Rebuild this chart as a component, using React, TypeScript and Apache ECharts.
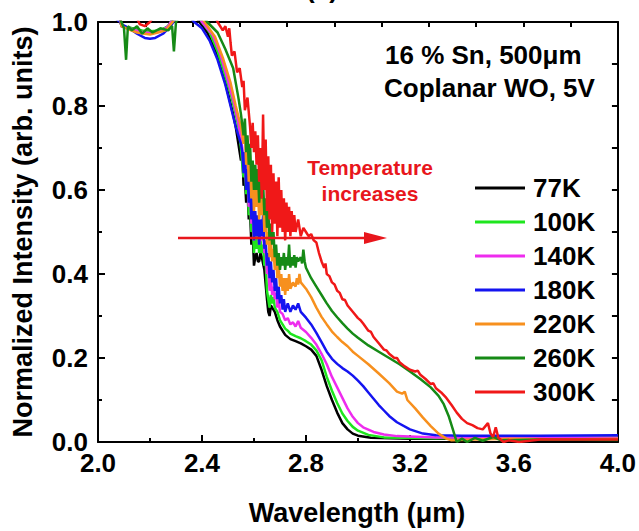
import React, { useEffect, useRef } from "react";
import * as echarts from "echarts";

const FONT = "'Liberation Sans', Arial, Helvetica, sans-serif";

const SERIES_NAMES = ["77K", "100K", "140K", "180K", "220K", "260K", "300K"];
const SERIES_COLORS = ["#000000", "#1ee61e", "#ee2cee", "#1414f0", "#f7901e", "#168a16", "#f01818"];

const X_TICKS = [2.0, 2.4, 2.8, 3.2, 3.6, 4.0];
const Y_TICKS = [0.0, 0.2, 0.4, 0.6, 0.8, 1.0];

const K77: [number, number][] = [
  [2.0, 1.04], [2.085, 1.01], [2.09, 0.99], [2.13, 0.985], [2.17, 0.978], [2.2, 0.975], [2.24, 0.978], [2.27, 0.99], [2.29, 1.01], [2.33, 1.03], [2.37, 1.02], [2.39, 1.0],
  [2.42, 0.975], [2.45, 0.935], [2.48, 0.88], [2.5, 0.83], [2.52, 0.78], [2.53, 0.75], [2.54, 0.71], [2.55, 0.67], [2.555, 0.69], [2.56, 0.61], [2.565, 0.63], [2.57, 0.57],
  [2.575, 0.6], [2.58, 0.53], [2.585, 0.55], [2.59, 0.47], [2.595, 0.5], [2.6, 0.42], [2.605, 0.44], [2.61, 0.45], [2.615, 0.43], [2.62, 0.43], [2.625, 0.45], [2.63, 0.44],
  [2.64, 0.41], [2.65, 0.34], [2.655, 0.31], [2.66, 0.3], [2.665, 0.325], [2.67, 0.32], [2.68, 0.31], [2.69, 0.29], [2.7, 0.275], [2.72, 0.255], [2.74, 0.245], [2.76, 0.24],
  [2.78, 0.235], [2.8, 0.228], [2.82, 0.22], [2.84, 0.205], [2.86, 0.172], [2.88, 0.133], [2.9, 0.1], [2.92, 0.07], [2.94, 0.045], [2.96, 0.03], [2.98, 0.02], [3.0, 0.015],
  [3.05, 0.01], [3.2, 0.008], [3.5, 0.008], [4.0, 0.01],
];

const K100: [number, number][] = [
  [2.0, 1.04], [2.085, 1.01], [2.09, 0.99], [2.13, 0.985], [2.17, 0.98], [2.2, 0.978], [2.24, 0.98], [2.27, 0.99], [2.29, 1.01], [2.34, 1.03], [2.38, 1.02], [2.4, 1.0],
  [2.43, 0.975], [2.46, 0.93], [2.49, 0.87], [2.51, 0.83], [2.53, 0.78], [2.54, 0.75], [2.55, 0.7], [2.555, 0.66], [2.56, 0.63], [2.565, 0.67], [2.57, 0.59], [2.575, 0.63],
  [2.58, 0.54], [2.585, 0.57], [2.59, 0.5], [2.595, 0.53], [2.6, 0.45], [2.605, 0.5], [2.61, 0.46], [2.615, 0.49], [2.62, 0.45], [2.625, 0.48], [2.63, 0.45], [2.635, 0.47],
  [2.64, 0.42], [2.645, 0.43], [2.65, 0.36], [2.655, 0.34], [2.66, 0.32], [2.665, 0.35], [2.67, 0.33], [2.675, 0.345], [2.68, 0.32], [2.69, 0.31], [2.7, 0.29], [2.71, 0.28],
  [2.72, 0.27], [2.73, 0.265], [2.74, 0.258], [2.76, 0.252], [2.78, 0.247], [2.8, 0.24], [2.82, 0.232], [2.84, 0.218], [2.86, 0.195], [2.88, 0.155], [2.9, 0.122], [2.92, 0.093],
  [2.94, 0.068], [2.96, 0.05], [2.98, 0.036], [3.0, 0.027], [3.04, 0.017], [3.1, 0.011], [3.3, 0.009], [3.6, 0.01], [4.0, 0.01],
];

const K140: [number, number][] = [
  [2.0, 1.04], [2.085, 1.01], [2.09, 0.99], [2.13, 0.983], [2.17, 0.976], [2.2, 0.974], [2.24, 0.977], [2.27, 0.99], [2.29, 1.01], [2.35, 1.03], [2.38, 1.02], [2.4, 1.0],
  [2.44, 0.97], [2.47, 0.925], [2.5, 0.86], [2.52, 0.815], [2.54, 0.76], [2.55, 0.72], [2.555, 0.7], [2.56, 0.65], [2.565, 0.69], [2.57, 0.61], [2.575, 0.65], [2.58, 0.56],
  [2.585, 0.61], [2.59, 0.52], [2.595, 0.56], [2.6, 0.48], [2.605, 0.53], [2.61, 0.49], [2.615, 0.52], [2.62, 0.47], [2.625, 0.5], [2.63, 0.48], [2.635, 0.51], [2.64, 0.45],
  [2.645, 0.46], [2.65, 0.4], [2.655, 0.42], [2.66, 0.36], [2.665, 0.39], [2.67, 0.35], [2.675, 0.37], [2.68, 0.34], [2.685, 0.355], [2.69, 0.32], [2.695, 0.34], [2.7, 0.31],
  [2.71, 0.305], [2.72, 0.29], [2.73, 0.295], [2.74, 0.28], [2.75, 0.285], [2.76, 0.275], [2.77, 0.288], [2.78, 0.272], [2.8, 0.262], [2.82, 0.248], [2.84, 0.232], [2.86, 0.21],
  [2.88, 0.185], [2.9, 0.155], [2.92, 0.13], [2.94, 0.105], [2.96, 0.08], [2.98, 0.06], [3.0, 0.045], [3.02, 0.035], [3.06, 0.024], [3.1, 0.018], [3.15, 0.014], [3.3, 0.011],
  [3.6, 0.01], [4.0, 0.01],
];

const K180: [number, number][] = [
  [2.0, 1.04], [2.085, 1.0], [2.09, 0.995], [2.12, 0.985], [2.15, 0.972], [2.18, 0.962], [2.2, 0.96], [2.22, 0.962], [2.25, 0.972], [2.28, 0.99], [2.3, 1.01], [2.34, 1.02],
  [2.37, 1.0], [2.4, 0.985], [2.43, 0.955], [2.46, 0.91], [2.49, 0.85], [2.51, 0.8], [2.53, 0.75], [2.55, 0.71], [2.555, 0.69], [2.56, 0.64], [2.565, 0.69], [2.57, 0.6],
  [2.575, 0.65], [2.58, 0.57], [2.585, 0.63], [2.59, 0.53], [2.595, 0.58], [2.6, 0.48], [2.605, 0.55], [2.61, 0.49], [2.615, 0.54], [2.62, 0.47], [2.625, 0.53], [2.63, 0.49],
  [2.635, 0.54], [2.64, 0.46], [2.645, 0.48], [2.65, 0.42], [2.655, 0.45], [2.66, 0.39], [2.665, 0.43], [2.67, 0.38], [2.675, 0.41], [2.68, 0.36], [2.685, 0.39], [2.69, 0.34],
  [2.695, 0.37], [2.7, 0.33], [2.705, 0.35], [2.71, 0.315], [2.715, 0.34], [2.72, 0.31], [2.73, 0.33], [2.74, 0.31], [2.75, 0.325], [2.76, 0.315], [2.77, 0.33], [2.78, 0.31],
  [2.8, 0.296], [2.82, 0.28], [2.84, 0.26], [2.86, 0.238], [2.88, 0.215], [2.9, 0.198], [2.92, 0.186], [2.94, 0.176], [2.96, 0.168], [2.98, 0.158], [3.0, 0.146], [3.02, 0.133],
  [3.04, 0.118], [3.06, 0.103], [3.08, 0.088], [3.1, 0.075], [3.12, 0.062], [3.15, 0.047], [3.2, 0.03], [3.25, 0.02], [3.3, 0.016], [3.4, 0.015], [3.7, 0.015], [4.0, 0.016],
];

const K220: [number, number][] = [
  [2.0, 1.04], [2.085, 1.01], [2.09, 0.99], [2.12, 0.982], [2.15, 0.975], [2.18, 0.972], [2.2, 0.97], [2.23, 0.975], [2.26, 0.98], [2.3, 1.01], [2.36, 1.03], [2.39, 1.02],
  [2.41, 1.0], [2.45, 0.965], [2.48, 0.915], [2.51, 0.855], [2.53, 0.8], [2.55, 0.75], [2.56, 0.71], [2.565, 0.74], [2.57, 0.66], [2.575, 0.7], [2.58, 0.62], [2.585, 0.67],
  [2.59, 0.58], [2.595, 0.63], [2.6, 0.55], [2.605, 0.62], [2.61, 0.56], [2.615, 0.61], [2.62, 0.53], [2.625, 0.59], [2.63, 0.54], [2.635, 0.58], [2.64, 0.5], [2.645, 0.54],
  [2.65, 0.47], [2.655, 0.5], [2.66, 0.44], [2.665, 0.48], [2.67, 0.43], [2.675, 0.46], [2.68, 0.41], [2.685, 0.44], [2.69, 0.39], [2.695, 0.42], [2.7, 0.37], [2.705, 0.4],
  [2.71, 0.36], [2.715, 0.39], [2.72, 0.35], [2.725, 0.39], [2.73, 0.36], [2.735, 0.4], [2.74, 0.365], [2.75, 0.38], [2.76, 0.37], [2.765, 0.39], [2.77, 0.375], [2.775, 0.4],
  [2.78, 0.38], [2.8, 0.365], [2.82, 0.345], [2.84, 0.32], [2.86, 0.298], [2.88, 0.28], [2.9, 0.263], [2.92, 0.25], [2.94, 0.238], [2.96, 0.228], [2.98, 0.215], [3.0, 0.205],
  [3.04, 0.185], [3.08, 0.163], [3.12, 0.14], [3.15, 0.12], [3.17, 0.115], [3.18, 0.12], [3.19, 0.1], [3.22, 0.08], [3.25, 0.058], [3.28, 0.038], [3.31, 0.02], [3.34, 0.008],
  [3.36, 0.004], [3.45, 0.006], [3.6, 0.008], [3.8, 0.006], [4.0, 0.008],
];

const K260: [number, number][] = [
  [2.0, 1.04], [2.085, 1.01], [2.09, 1.0], [2.1, 0.985], [2.108, 0.91], [2.115, 0.99], [2.13, 0.98], [2.15, 0.99], [2.17, 0.972], [2.19, 0.985], [2.21, 0.975], [2.24, 0.985],
  [2.27, 0.98], [2.285, 0.99], [2.292, 0.93], [2.3, 1.0], [2.33, 1.03], [2.39, 1.03], [2.42, 1.0], [2.46, 0.975], [2.49, 0.935], [2.52, 0.89], [2.54, 0.82], [2.55, 0.78],
  [2.56, 0.73], [2.565, 0.77], [2.57, 0.69], [2.575, 0.73], [2.58, 0.66], [2.585, 0.71], [2.59, 0.62], [2.595, 0.67], [2.6, 0.6], [2.605, 0.66], [2.61, 0.6], [2.615, 0.65],
  [2.62, 0.57], [2.625, 0.62], [2.63, 0.58], [2.635, 0.62], [2.64, 0.54], [2.645, 0.58], [2.65, 0.51], [2.655, 0.55], [2.66, 0.48], [2.665, 0.52], [2.67, 0.47], [2.675, 0.5],
  [2.68, 0.44], [2.685, 0.47], [2.69, 0.42], [2.695, 0.45], [2.7, 0.41], [2.705, 0.44], [2.71, 0.42], [2.715, 0.45], [2.72, 0.41], [2.725, 0.44], [2.73, 0.42], [2.735, 0.47],
  [2.74, 0.415], [2.745, 0.44], [2.75, 0.42], [2.755, 0.445], [2.76, 0.415], [2.765, 0.44], [2.77, 0.43], [2.78, 0.44], [2.785, 0.425], [2.79, 0.458], [2.795, 0.43], [2.8, 0.415],
  [2.82, 0.39], [2.84, 0.37], [2.86, 0.35], [2.88, 0.33], [2.9, 0.312], [2.92, 0.297], [2.94, 0.283], [2.96, 0.27], [2.98, 0.258], [3.0, 0.248], [3.04, 0.23], [3.08, 0.215],
  [3.12, 0.2], [3.16, 0.185], [3.2, 0.168], [3.24, 0.15], [3.28, 0.13], [3.31, 0.11], [3.33, 0.09], [3.35, 0.06], [3.365, 0.03], [3.375, 0.01], [3.38, 0.0], [3.4, 0.008],
  [3.42, 0.0], [3.45, 0.01], [3.48, 0.003], [3.52, 0.012], [3.55, 0.004], [3.7, 0.006], [4.0, 0.005],
];

const K300: [number, number][] = [
  [2.0, 1.04], [2.15, 1.01], [2.16, 0.995], [2.18, 0.99], [2.2, 1.0], [2.22, 1.02], [2.44, 1.03], [2.46, 1.0], [2.48, 0.98], [2.49, 0.99], [2.5, 0.965], [2.505, 0.985],
  [2.51, 0.95], [2.515, 0.92], [2.525, 0.93], [2.535, 0.88], [2.545, 0.89], [2.555, 0.845], [2.56, 0.86], [2.565, 0.79], [2.575, 0.82], [2.585, 0.75], [2.59, 0.7], [2.595, 0.76],
  [2.6, 0.69], [2.605, 0.74], [2.61, 0.66], [2.615, 0.73], [2.62, 0.62], [2.625, 0.7], [2.63, 0.58], [2.635, 0.78], [2.64, 0.6], [2.645, 0.72], [2.65, 0.55], [2.655, 0.68],
  [2.66, 0.53], [2.665, 0.66], [2.67, 0.5], [2.675, 0.64], [2.68, 0.52], [2.685, 0.62], [2.69, 0.49], [2.695, 0.63], [2.7, 0.51], [2.705, 0.6], [2.71, 0.5], [2.715, 0.58],
  [2.72, 0.48], [2.725, 0.57], [2.73, 0.5], [2.735, 0.56], [2.74, 0.49], [2.745, 0.55], [2.75, 0.5], [2.755, 0.54], [2.76, 0.5], [2.77, 0.53], [2.78, 0.49], [2.79, 0.51],
  [2.8, 0.5], [2.81, 0.49], [2.82, 0.495], [2.83, 0.48], [2.84, 0.475], [2.85, 0.45], [2.86, 0.43], [2.87, 0.415], [2.875, 0.425], [2.88, 0.4], [2.89, 0.395], [2.9, 0.38],
  [2.91, 0.375], [2.92, 0.36], [2.93, 0.355], [2.94, 0.34], [2.95, 0.338], [2.96, 0.325], [2.98, 0.31], [3.0, 0.295], [3.01, 0.29], [3.02, 0.282], [3.04, 0.265], [3.05, 0.262],
  [3.06, 0.25], [3.08, 0.235], [3.1, 0.22], [3.11, 0.218], [3.12, 0.21], [3.14, 0.2], [3.15, 0.2], [3.16, 0.19], [3.18, 0.18], [3.2, 0.172], [3.22, 0.168], [3.23, 0.17],
  [3.24, 0.16], [3.26, 0.15], [3.28, 0.138], [3.29, 0.14], [3.3, 0.128], [3.32, 0.118], [3.34, 0.105], [3.36, 0.088], [3.38, 0.07], [3.4, 0.055], [3.42, 0.045], [3.44, 0.04],
  [3.46, 0.033], [3.48, 0.03], [3.5, 0.045], [3.51, 0.02], [3.52, 0.012], [3.53, 0.035], [3.54, 0.01], [3.56, 0.0], [3.58, 0.004], [3.62, 0.0], [3.7, 0.006], [4.0, 0.006],
];

const SERIES_DATA = [K77, K100, K140, K180, K220, K260, K300];

const ANNOTATION_LINES = ["16 % Sn, 500\u03bcm", "Coplanar WO, 5V"];
const ARROW_LINES = ["Temperature", "increases"];
const X_TITLE = "Wavelength (\u03bcm)";
const Y_TITLE = "Normalized Intensity (arb. units)";
const PANEL_LABEL = "(a)";

export default function App() {
  const ref = useRef<HTMLDivElement>(null);

  useEffect(() => {
    if (!ref.current) return;
    const chart = echarts.init(ref.current, undefined, { renderer: "svg" });
    const black = "#000000";
    const red = "#e8161c";
    const axisLine = { onZero: false, lineStyle: { color: black, width: 2 } };
    const tickStyle = { color: black, width: 2 };

    const option: any = {
      animation: false,
      backgroundColor: "#ffffff",
      grid: { left: 98, right: 21, top: 22, bottom: 89, containLabel: false },
      xAxis: [
        {
          type: "value",
          position: "bottom",
          min: X_TICKS[0],
          max: X_TICKS[X_TICKS.length - 1],
          interval: 0.4,
          axisLine,
          axisTick: { show: true, inside: true, length: 7, lineStyle: tickStyle },
          minorTick: { show: true, splitNumber: 2, length: 4, lineStyle: tickStyle },
          axisLabel: {
            fontSize: 26,
            fontWeight: "bold",
            fontFamily: FONT,
            color: black,
            margin: 8,
            formatter: (v: number) => v.toFixed(1),
          },
          splitLine: { show: false },
          minorSplitLine: { show: false },
        },
        {
          type: "value",
          position: "top",
          min: 0,
          max: 11,
          interval: 1,
          axisLine,
          axisTick: { show: true, inside: true, length: 5, lineStyle: tickStyle },
          axisLabel: { show: false },
          splitLine: { show: false },
        },
      ],
      yAxis: [
        {
          type: "value",
          position: "left",
          min: Y_TICKS[0],
          max: Y_TICKS[Y_TICKS.length - 1],
          interval: 0.2,
          axisLine,
          axisTick: { show: true, inside: true, length: 7, lineStyle: tickStyle },
          minorTick: { show: true, splitNumber: 2, length: 4, lineStyle: tickStyle },
          axisLabel: {
            fontSize: 26,
            fontWeight: "bold",
            fontFamily: FONT,
            color: black,
            margin: 10,
            formatter: (v: number) => v.toFixed(1),
          },
          splitLine: { show: false },
          minorSplitLine: { show: false },
        },
        {
          type: "value",
          position: "right",
          min: 0,
          max: 1,
          interval: 0.1,
          axisLine,
          axisTick: { show: true, inside: true, length: 6, lineStyle: tickStyle },
          axisLabel: { show: false },
          splitLine: { show: false },
        },
      ],
      legend: {
        data: SERIES_NAMES,
        orient: "vertical",
        left: 470,
        top: 170,
        itemGap: 8,
        itemWidth: 50,
        itemHeight: 3,
        icon: "rect",
        selectedMode: false,
        textStyle: {
          fontSize: 26,
          fontWeight: "bold",
          fontFamily: FONT,
          color: black,
          lineHeight: 26,
          padding: [0, 0, 0, 3],
        },
      },
      series: SERIES_NAMES.map((name, i) => ({
        name,
        type: "line",
        xAxisIndex: 0,
        yAxisIndex: 0,
        data: SERIES_DATA[i],
        showSymbol: false,
        symbol: "none",
        clip: true,
        color: SERIES_COLORS[i],
        lineStyle: { color: SERIES_COLORS[i], width: 2.5 },
        z: 2 + i,
      })),
      graphic: [
        {
          type: "text",
          x: 385,
          y: 55,
          style: { text: ANNOTATION_LINES[0], font: `bold 26px ${FONT}`, fill: black, textAlign: "left", textVerticalAlign: "middle" },
        },
        {
          type: "text",
          x: 384,
          y: 88,
          style: { text: ANNOTATION_LINES[1], font: `bold 26px ${FONT}`, fill: black, textAlign: "left", textVerticalAlign: "middle" },
        },
        {
          type: "text",
          x: 370,
          y: 167,
          style: { text: ARROW_LINES[0], font: `bold 21px ${FONT}`, fill: red, textAlign: "center", textVerticalAlign: "middle" },
        },
        {
          type: "text",
          x: 370,
          y: 193,
          style: { text: ARROW_LINES[1], font: `bold 21px ${FONT}`, fill: red, textAlign: "center", textVerticalAlign: "middle" },
        },
        {
          type: "line",
          shape: { x1: 178, y1: 238, x2: 368, y2: 238 },
          style: { stroke: red, lineWidth: 2.5 },
          z: 100,
        },
        {
          type: "polygon",
          shape: { points: [[364, 232], [387, 238], [364, 244]] },
          style: { fill: red },
          z: 100,
        },
        {
          type: "text",
          x: 357,
          y: 513,
          style: { text: X_TITLE, font: `bold 27px ${FONT}`, fill: black, textAlign: "center", textVerticalAlign: "middle" },
        },
        {
          type: "text",
          x: 23,
          y: 232,
          rotation: Math.PI / 2,
          style: { text: Y_TITLE, font: `bold 27px ${FONT}`, fill: black, textAlign: "center", textVerticalAlign: "middle" },
        },
        {
          type: "text",
          x: 322,
          y: -11,
          style: { text: PANEL_LABEL, font: `bold 26px ${FONT}`, fill: black, textAlign: "center", textVerticalAlign: "middle" },
        },
      ],
    };

    chart.setOption(option);
    return () => chart.dispose();
  }, []);

  return (
    <div
      ref={ref}
      style={{ position: "absolute", left: 0, top: 0, width: 639, height: 531, background: "#fff" }}
    />
  );
}
